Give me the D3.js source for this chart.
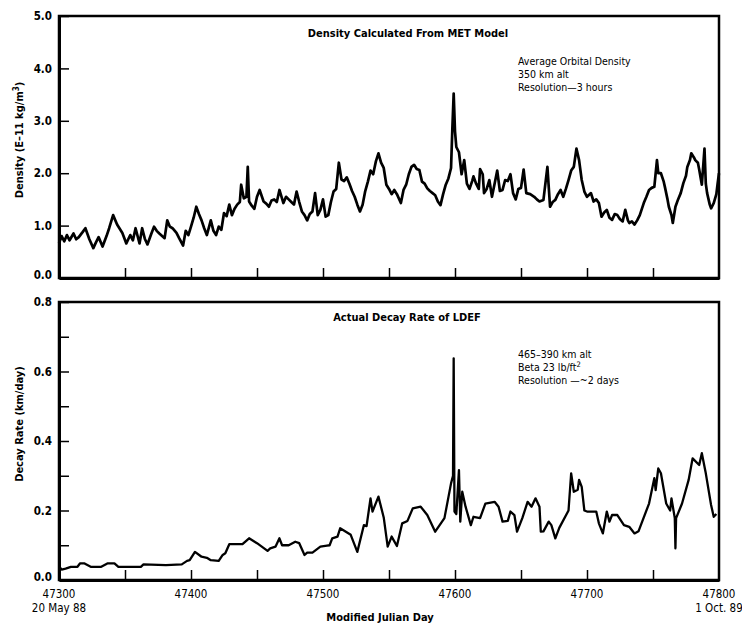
<!DOCTYPE html>
<html>
<head>
<meta charset="utf-8">
<script src="https://cdn.jsdelivr.net/npm/d3@7"></script>
<style>
  body { margin: 0; background: #fff; }
  svg text { font-family: 'Liberation Sans Narrow', 'DejaVu Sans Condensed', 'Arial Narrow', sans-serif; fill: #000; }
  .bold { font-weight: bold; }
</style>
</head>
<body>
<div id="root"></div>
<script>
// Density from MET model, 350 km (E-11 kg/m^3)
const densityDays = [47300,47302,47304,47306,47308,47311,47313,47315,47318,47320,47323,47326,47328,47330,47333,47336,47338,47341,47344,47348,
  47351,47354,47356,47358,47361,47363,47365,47367,47370,47372,47374,47376,47380,47382,47384,47386,47389,47391,47394,47396,
  47398,47400,47402,47404,47406,47408,47410,47412,47415,47417,47419,47421,47423,47425,47427,47429,47431,47433,47435,47437,
  47438,47440,47442,47443,47444,47446,47448,47450,47452,47455,47457,47459,47461,47463,47465,47467,47470,47472,47474,47476,
  47478,47480,47482,47484,47486,47488,47490,47492,47494,47496,47498,47500,47502,47504,47506,47508,47510,47512,47514,47516,
  47518,47520,47522,47524,47526,47528,47530,47532,47534,47536,47538,47540,47542,47544,47546,47548,47550,47552,47554,47556,
  47559,47561,47563,47565,47567,47569,47571,47573,47575,47577,47579,47581,47583,47585,47587,47589,47591,47593,47595,47597,
  47598,47599,47600,47601,47603,47605,47607,47609,47611,47613,47614,47616,47618,47619,47621,47622,47624,47626,47628,47630,
  47632,47634,47636,47638,47640,47642,47644,47646,47648,47650,47652,47654,47657,47660,47662,47664,47667,47670,47672,47674,
  47676,47678,47680,47682,47684,47686,47688,47690,47692,47694,47696,47698,47700,47703,47705,47707,47709,47711,47713,47715,
  47717,47719,47721,47723,47725,47727,47729,47731,47732,47734,47736,47738,47740,47743,47745,47747,47749,47751,47753,47754,
  47756,47758,47759,47761,47762,47764,47765,47767,47769,47771,47773,47775,47776,47778,47779,47781,47782,47784,47785,47787,
  47789,47790,47791,47793,47794,47796,47798,47799,47800];
const densityValues = [0.66,0.80,0.70,0.82,0.72,0.85,0.74,0.78,0.88,0.95,0.74,0.57,0.68,0.78,0.60,0.80,0.95,1.20,1.02,0.86,
  0.66,0.82,0.72,0.95,0.66,0.95,0.75,0.64,0.85,0.98,0.90,0.85,0.76,1.10,0.98,0.95,0.86,0.76,0.62,0.90,
  0.82,0.98,1.15,1.36,1.22,1.10,0.95,0.82,1.10,0.90,0.82,0.98,0.92,1.24,1.18,1.40,1.20,1.32,1.40,1.45,
  1.78,1.52,1.55,2.12,1.46,1.38,1.32,1.55,1.68,1.46,1.42,1.36,1.48,1.50,1.45,1.68,1.43,1.55,1.50,1.45,
  1.40,1.65,1.45,1.27,1.20,1.10,1.22,1.27,1.62,1.20,1.30,1.50,1.17,1.20,1.45,1.65,1.70,2.20,1.88,1.85,
  1.92,1.80,1.66,1.55,1.40,1.27,1.40,1.66,1.84,2.05,1.98,2.22,2.38,2.20,2.10,1.78,1.70,1.60,1.68,1.60,
  1.43,1.68,1.78,1.98,2.12,2.16,2.08,2.06,1.84,1.80,1.71,1.66,1.62,1.58,1.46,1.39,1.60,1.78,1.90,2.10,
  2.85,3.52,2.80,2.50,2.40,1.98,2.25,1.80,1.70,1.85,1.94,1.80,1.70,2.08,1.98,1.62,1.70,1.87,1.55,1.80,
  2.05,1.66,1.68,1.87,1.85,1.98,1.62,1.50,1.70,1.72,2.07,1.62,1.60,1.55,1.50,1.46,1.49,2.12,1.36,1.45,
  1.49,1.60,1.68,1.55,1.70,1.87,2.05,2.12,2.47,2.25,1.87,1.65,1.55,1.62,1.46,1.50,1.43,1.17,1.25,1.30,
  1.15,1.11,1.22,1.20,1.12,1.08,1.30,1.10,1.05,1.08,1.02,1.10,1.20,1.43,1.55,1.68,1.72,1.74,2.25,2.00,
  2.00,1.85,1.74,1.50,1.36,1.20,1.05,1.36,1.50,1.62,1.81,1.95,2.12,2.25,2.38,2.30,2.25,2.20,2.07,1.78,
  2.47,1.80,1.62,1.40,1.33,1.43,1.60,1.81,2.00];

// Actual decay rate of LDEF (km/day)
const decayDays = [47300,47302,47305,47309,47314,47316,47319,47324,47332,47337,47342,47345,47362,47364,47381,47393,47397,47399,47403,47408,
  47412,47415,47421,47424,47426,47429,47439,47444,47450,47458,47460,47464,47467,47469,47474,47479,47482,47486,47488,47492,
  47498,47503,47505,47507,47511,47513,47521,47526,47531,47533,47536,47537.5,47542,47546,47549,47552,47556,47560,47564,47568,
  47574,47579,47585,47592,47597,47598.5,47599,47599.6,47601,47603,47604,47605.5,47608,47612,47614,47619,47623,47630,47633,47636,
  47640,47642,47645,47647,47651,47655,47658,47661,47664,47665,47667,47671,47673,47676,47679,47686,47688,47690,47693,47694,
  47696,47698,47700,47707,47709,47712,47715,47717,47719,47723,47728,47732,47736,47739,47747,47751,47752,47754,47756,47760,
  47763,47764,47766.5,47767,47767.5,47772,47777,47780,47785,47787,47790,47794,47796,47798];
const decayValues = [0.040,0.030,0.033,0.038,0.038,0.048,0.048,0.038,0.038,0.048,0.048,0.038,0.038,0.045,0.043,0.045,0.055,0.057,0.081,0.067,
  0.064,0.057,0.055,0.072,0.077,0.103,0.103,0.120,0.106,0.084,0.091,0.096,0.120,0.100,0.100,0.110,0.106,0.072,0.079,0.079,
  0.096,0.099,0.100,0.120,0.125,0.149,0.130,0.081,0.158,0.155,0.235,0.197,0.240,0.180,0.096,0.125,0.098,0.163,0.170,0.206,
  0.211,0.187,0.139,0.178,0.278,0.300,0.638,0.197,0.190,0.316,0.168,0.254,0.211,0.158,0.182,0.178,0.220,0.225,0.211,0.168,
  0.170,0.197,0.187,0.139,0.178,0.225,0.211,0.235,0.211,0.139,0.140,0.168,0.158,0.120,0.150,0.200,0.307,0.254,0.260,0.288,
  0.268,0.200,0.197,0.197,0.163,0.134,0.197,0.168,0.187,0.187,0.158,0.153,0.134,0.140,0.220,0.293,0.259,0.321,0.307,0.220,
  0.200,0.235,0.178,0.091,0.178,0.220,0.288,0.350,0.331,0.365,0.307,0.216,0.182,0.190];

const dayLabels = [47300,47400,47500,47600,47700,47800];
const dayTicks = [47350,47400,47450,47500,47550,47600,47650,47700,47750];
const densityTicks = [0,1,2,3,4,5];
const decayTicks = [0,0.1,0.2,0.3,0.4,0.5,0.6,0.7,0.8];

const width = 742, height = 627;
const left = 59, right = 719;

const svg = d3.select('#root').append('svg')
  .attr('width', width).attr('height', height);

const x = d3.scaleLinear().domain([47300, 47800]).range([left, right]);
const yTop = d3.scaleLinear().domain([0, 5]).range([278, 16]);
const yBot = d3.scaleLinear().domain([0, 0.8]).range([580, 302]);

function panel(y, days, vals, yTicks, fmt, lw) {
  const g = svg.append('g');
  const [y0, y1] = y.range();

  // frame
  g.append('rect')
    .attr('x', left).attr('y', y1)
    .attr('width', right - left).attr('height', y0 - y1)
    .attr('fill', 'none').attr('stroke', '#000').attr('stroke-width', 2.5);

  // left axis, ticks pointing inward
  g.append('g')
    .attr('transform', 'translate(' + left + ',0)')
    .call(d3.axisLeft(y).tickValues(yTicks).tickFormat(fmt)
      .tickSizeInner(-10).tickSizeOuter(0).tickPadding(7))
    .call(a => a.select('.domain').attr('stroke-width', 3))
    .call(a => a.selectAll('.tick line').attr('stroke-width', 1.5))
    .call(a => a.selectAll('.tick text').attr('class', 'bold').attr('font-size', 11.5))
    .call(a => a.selectAll('.tick text').filter(d => d === 0).attr('dy', '0.05em'));

  // bottom axis, inward ticks only
  g.append('g')
    .attr('transform', 'translate(0,' + y0 + ')')
    .call(d3.axisBottom(x).tickValues(dayTicks).tickFormat('')
      .tickSizeInner(-10).tickSizeOuter(0))
    .call(a => a.select('.domain').attr('stroke-width', 3))
    .call(a => a.selectAll('.tick line').attr('stroke-width', 1.5));

  const line = d3.line().x((d, i) => x(days[i])).y(d => y(d));
  g.append('path')
    .datum(vals)
    .attr('d', line)
    .attr('fill', 'none')
    .attr('stroke', '#000')
    .attr('stroke-width', lw)
    .attr('stroke-linejoin', 'round');
  return g;
}

panel(yTop, densityDays, densityValues, densityTicks, d => d3.format('.1f')(d), 2.7);
panel(yBot, decayDays, decayValues, decayTicks,
  d => (Math.round(d * 10) % 2 === 0 ? d3.format('.1f')(d) : ''), 2.3);

// x tick labels under bottom panel
svg.append('g').selectAll('text')
  .data(dayLabels).enter().append('text')
  .attr('x', d => x(d)).attr('y', 598)
  .attr('text-anchor', 'middle')
  .attr('font-size', 11.5)
  .text(d => d);

svg.append('text').attr('x', x(47300)).attr('y', 612)
  .attr('text-anchor', 'middle').attr('font-size', 11.5).text('20 May 88');
svg.append('text').attr('x', x(47800)).attr('y', 612)
  .attr('text-anchor', 'middle').attr('font-size', 11.5).text('1 Oct. 89');
svg.append('text').attr('x', 380).attr('y', 621).attr('class', 'bold')
  .attr('text-anchor', 'middle').attr('font-size', 11).text('Modified Julian Day');

// y axis titles
svg.append('text').attr('class', 'bold')
  .attr('transform', 'translate(23,140) rotate(-90)')
  .attr('text-anchor', 'middle').attr('font-size', 11)
  .html('Density (E–11 kg/m<tspan dy="-4" font-size="8">3</tspan><tspan dy="4">)</tspan>');
svg.append('text').attr('class', 'bold')
  .attr('transform', 'translate(23,424) rotate(-90)')
  .attr('text-anchor', 'middle').attr('font-size', 11)
  .text('Decay Rate (km/day)');

// panel titles
svg.append('text').attr('class', 'bold').attr('x', 408).attr('y', 37)
  .attr('text-anchor', 'middle').attr('font-size', 11)
  .text('Density Calculated From MET Model');
svg.append('text').attr('class', 'bold').attr('x', 407).attr('y', 321)
  .attr('text-anchor', 'middle').attr('font-size', 11)
  .text('Actual Decay Rate of LDEF');

// annotations
const noteTop = ['Average Orbital Density', '350 km alt', 'Resolution—3 hours'];
svg.append('g').selectAll('text').data(noteTop).enter().append('text')
  .attr('x', 518).attr('y', (d, i) => 65 + i * 12.8)
  .attr('font-size', 10.5).text(d => d);

const noteBot = svg.append('g');
noteBot.append('text').attr('x', 518).attr('y', 358).attr('font-size', 10.5).text('465–390 km alt');
noteBot.append('text').attr('x', 518).attr('y', 371).attr('font-size', 10.5)
  .html('Beta 23 lb/ft<tspan dy="-4" font-size="7.5">2</tspan>');
noteBot.append('text').attr('x', 518).attr('y', 384).attr('font-size', 10.5).text('Resolution —~2 days');
</script>
</body>
</html>
